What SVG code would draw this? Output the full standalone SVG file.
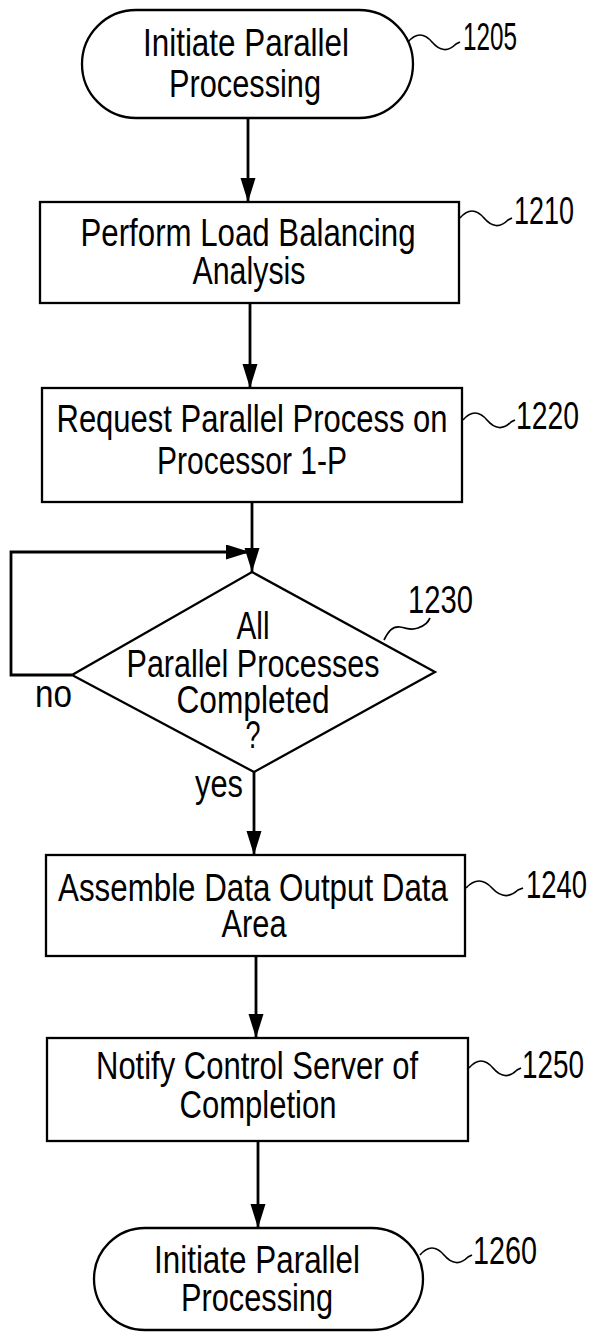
<svg xmlns="http://www.w3.org/2000/svg" width="592" height="1332" viewBox="0 0 592 1332">
<style>
.shape{fill:#fff;stroke:#000;stroke-width:2.3}
.conn{fill:none;stroke:#000;stroke-width:2.8}
.sq{fill:none;stroke:#000;stroke-width:1.7}
text{font-family:"Liberation Sans",Arial,sans-serif;font-size:38px;fill:#000}
.c{text-anchor:middle}
.r{text-anchor:end}
</style>
<defs>
<marker id="ah" markerUnits="userSpaceOnUse" markerWidth="26" markerHeight="16" refX="24" refY="7.5" orient="auto">
<path d="M0,0 L24,7.5 L0,15 z" fill="#000"/>
</marker>
</defs>
<rect width="592" height="1332" fill="#fff"/>
<g id="connectors">
<path class="conn" d="M248,118 V202" marker-end="url(#ah)"/>
<path class="conn" d="M250,303 V388" marker-end="url(#ah)"/>
<path class="conn" d="M252,502 V572" marker-end="url(#ah)"/>
<path class="conn" d="M72,675 H11 V552 H250" marker-end="url(#ah)"/>
<path class="conn" d="M254,772 V855" marker-end="url(#ah)"/>
<path class="conn" d="M256,956 V1038" marker-end="url(#ah)"/>
<path class="conn" d="M258,1141 V1228" marker-end="url(#ah)"/>
<text x="35" y="707" textLength="37" lengthAdjust="spacingAndGlyphs">no</text>
<text x="195" y="797" textLength="48" lengthAdjust="spacingAndGlyphs">yes</text>
</g>
<g id="n1205">
<rect class="shape" x="82" y="10" width="331" height="108" rx="54"/>
<text class="c" x="246" y="56" textLength="206" lengthAdjust="spacingAndGlyphs">Initiate Parallel</text>
<text class="c" x="245" y="97" textLength="152" lengthAdjust="spacingAndGlyphs">Processing</text>
<path class="sq" d="M408,42 q12,-14 24,0 t24,2 l4,-2"/>
<text class="r" x="517" y="50" textLength="54" lengthAdjust="spacingAndGlyphs">1205</text>
</g>
<g id="n1210">
<rect class="shape" x="40" y="202" width="419" height="101"/>
<text class="c" x="248" y="246" textLength="335" lengthAdjust="spacingAndGlyphs">Perform Load Balancing</text>
<text class="c" x="249" y="284" textLength="113" lengthAdjust="spacingAndGlyphs">Analysis</text>
<path class="sq" d="M460,218 q12,-14 24,0 t24,2 l4,-2"/>
<text class="r" x="574" y="224" textLength="60" lengthAdjust="spacingAndGlyphs">1210</text>
</g>
<g id="n1220">
<rect class="shape" x="42" y="388" width="420" height="114"/>
<text class="c" x="252" y="432" textLength="391" lengthAdjust="spacingAndGlyphs">Request Parallel Process on</text>
<text class="c" x="252" y="474" textLength="190" lengthAdjust="spacingAndGlyphs">Processor 1-P</text>
<path class="sq" d="M463,420 q12,-14 24,0 t24,2 l4,-2"/>
<text class="r" x="579" y="429" textLength="63" lengthAdjust="spacingAndGlyphs">1220</text>
</g>
<g id="n1230">
<polygon class="shape" points="252,572 435,672 254,772 72,675"/>
<text class="c" x="253" y="639" textLength="33" lengthAdjust="spacingAndGlyphs">All</text>
<text class="c" x="253" y="677" textLength="253" lengthAdjust="spacingAndGlyphs">Parallel Processes</text>
<text class="c" x="253" y="713" textLength="153" lengthAdjust="spacingAndGlyphs">Completed</text>
<text class="c" x="253" y="748" textLength="15" lengthAdjust="spacingAndGlyphs">?</text>
<path class="sq" d="M384,640 c4,-8 8,-14 16,-13 s10,4 18,1 s10,-6 12,-10"/>
<text class="r" x="473" y="613" textLength="65" lengthAdjust="spacingAndGlyphs">1230</text>
</g>
<g id="n1240">
<rect class="shape" x="46" y="855" width="419" height="101"/>
<text class="c" x="253" y="901" textLength="390" lengthAdjust="spacingAndGlyphs">Assemble Data Output Data</text>
<text class="c" x="254" y="937" textLength="65" lengthAdjust="spacingAndGlyphs">Area</text>
<path class="sq" d="M466,888 q13,-14 26,0 t26,2 l5,-2"/>
<text class="r" x="587" y="898" textLength="61" lengthAdjust="spacingAndGlyphs">1240</text>
</g>
<g id="n1250">
<rect class="shape" x="47" y="1038" width="421" height="103"/>
<text class="c" x="257" y="1079" textLength="322" lengthAdjust="spacingAndGlyphs">Notify Control Server of</text>
<text class="c" x="258" y="1118" textLength="157" lengthAdjust="spacingAndGlyphs">Completion</text>
<path class="sq" d="M469,1068 q12,-14 24,0 t24,2 l4,-2"/>
<text class="r" x="584" y="1078" textLength="62" lengthAdjust="spacingAndGlyphs">1250</text>
</g>
<g id="n1260">
<rect class="shape" x="94" y="1228" width="329" height="102" rx="51"/>
<text class="c" x="257" y="1273" textLength="206" lengthAdjust="spacingAndGlyphs">Initiate Parallel</text>
<text class="c" x="257" y="1311" textLength="152" lengthAdjust="spacingAndGlyphs">Processing</text>
<path class="sq" d="M420,1255 q12,-14 24,0 t24,2 l4,-2"/>
<text class="r" x="537" y="1264" textLength="64" lengthAdjust="spacingAndGlyphs">1260</text>
</g>
</svg>
